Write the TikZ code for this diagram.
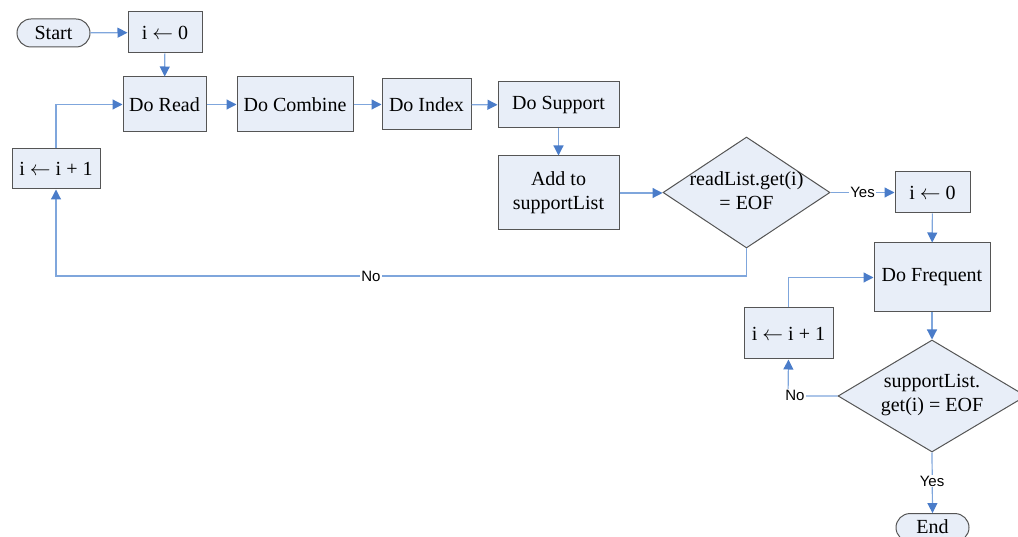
\documentclass[tikz,border=0pt]{standalone}
\usepackage{fontspec}
\setmainfont{Liberation Serif}
\newfontfamily\labelfont{Liberation Sans}
\usetikzlibrary{arrows.meta,shapes.geometric}
\definecolor{boxfill}{HTML}{E8EEF8}
\definecolor{boxline}{HTML}{555555}
\definecolor{flowline}{HTML}{7FA6DC}
\definecolor{tipcol}{HTML}{4A7CC9}
\newcommand{\getsarrow}{\ensuremath{\leftarrow}}
\tikzset{
  every node/.style={font=\fontsize{20}{24}\selectfont},
  box/.style={draw=boxline, fill=boxfill, line width=1pt, inner sep=0pt, align=center},
  term/.style={box, rounded corners=14pt, minimum width=73pt, minimum height=28pt},
  decision/.style={draw=boxline, fill=boxfill, line width=1pt, diamond, inner sep=0pt},
  flow/.style={draw=flowline, line width=1.2pt,
    -{Triangle[length=10pt,width=10pt,fill=tipcol,color=tipcol]}},
  tag/.style={font=\labelfont\fontsize{15}{17}\selectfont, fill=white, inner sep=1pt}
}
\begin{document}
\begin{tikzpicture}[x=1pt, y=-1pt]
\useasboundingbox (0,0) rectangle (1018,537);
\clip (0,0) rectangle (1018,537);

% main read loop
\node[term] (start) at (53.5,33) {Start};
\node[box, minimum width=74pt, minimum height=41pt] (init) at (165,32.5) {i \getsarrow\ 0};
\node[box, minimum width=83pt, minimum height=55pt] (read) at (164.5,104.5) {Do Read};
\node[box, minimum width=116pt, minimum height=55pt] (combine) at (295,104.5) {Do Combine};
\node[box, minimum width=89pt, minimum height=51pt] (index) at (426.5,104.5) {Do Index};
\node[box, minimum width=121pt, minimum height=46pt] (support) at (558.5,105) {Do Support};
\node[box, minimum width=121pt, minimum height=74pt] (add) at (558.5,193) {Add to\\supportList};
\node[decision, minimum width=167pt, minimum height=111pt] (d1) at (746.5,192.5) {};
\node[align=center, inner sep=0pt] (d1text) at (746.5,191) {readList.get(i)\\= EOF};
\node[box, minimum width=88pt, minimum height=40pt] (inc1) at (56,169) {i \getsarrow\ i + 1};

% frequent loop
\node[box, minimum width=75pt, minimum height=41pt] (init2) at (932.5,192.5) {i \getsarrow\ 0};
\node[box, minimum width=116pt, minimum height=69pt] (freq) at (932,277.5) {Do Frequent};
\node[box, minimum width=89pt, minimum height=51pt] (inc2) at (788.5,333.5) {i \getsarrow\ i + 1};
\node[decision, minimum width=188pt, minimum height=112pt] (d2) at (932,396) {};
\node[align=center, inner sep=0pt] (d2text) at (932,395) {supportList.\\get(i) = EOF};
\node[term, anchor=base, text depth=3pt] (endn) at (932.5,533) {End};

% turning points of the return lines
\coordinate (nolevel) at (0,276);
\coordinate (nocorner) at (788,396);

% connectors
\draw[flow] (start) -- (init);
\draw[flow] (init) -- (read);
\draw[flow] (read) -- (combine);
\draw[flow] (combine) -- (index);
\draw[flow] (index) -- (support);
\draw[flow] (support) -- (add);
\draw[flow] (add.east) -- (add.east -| d1.west);
\draw[flow] (d1.east) -- node[tag] (yes1) {Yes} (init2.west);
\draw[flow] (d1.south) -- (d1.south |- nolevel) -| (inc1.south);
\node[tag] (no1) at (371,276) {No};
\draw[flow] (inc1.north) |- (read.west);
\draw[flow] (init2) -- (freq);
\draw[flow] (freq) -- (d2);
\draw[flow] (d2.west) -- (nocorner) -- (inc2.south);
\node[tag] (no2) at (795,395) {No};
\draw[flow] (inc2.north) |- (freq.west);
\draw[flow] (d2.south) -- (endn.north);
\node[tag] (yes2) at (932,481) {Yes};
\end{tikzpicture}
\end{document}
